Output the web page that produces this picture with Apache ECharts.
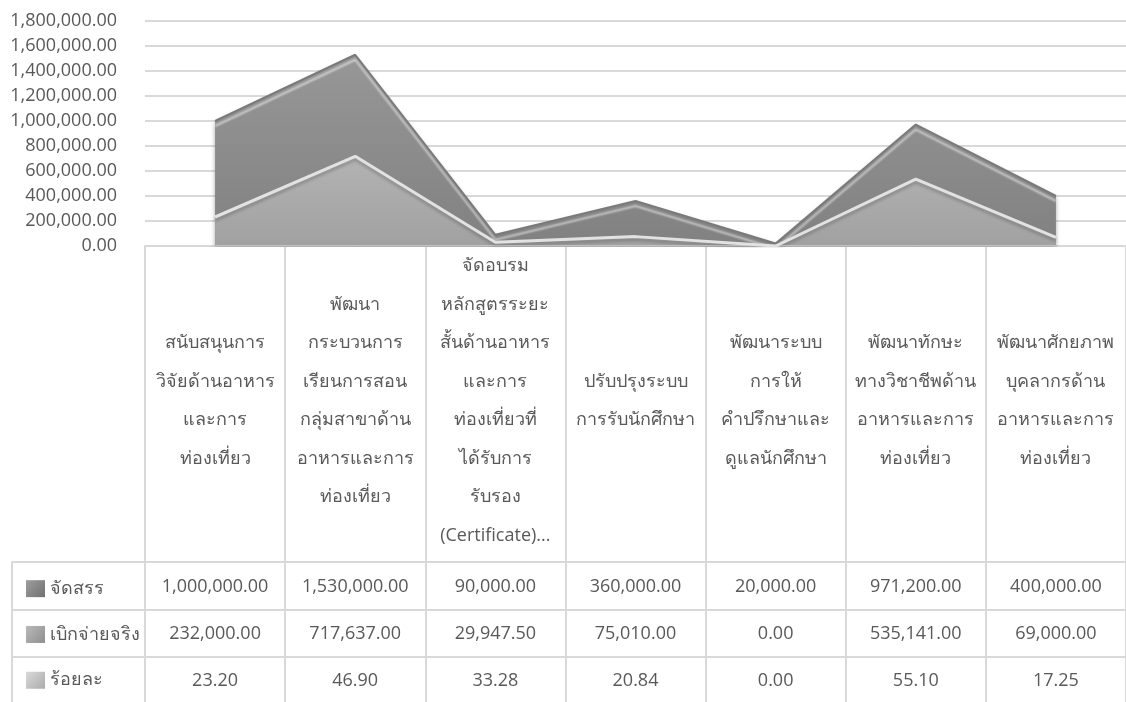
<!DOCTYPE html>
<html>
<head>
<meta charset="utf-8">
<script src="https://cdn.jsdelivr.net/npm/echarts@6/dist/echarts.min.js"></script>
<style>
  html, body { margin: 0; padding: 0; background: #fff; }
  #main { width: 1126px; height: 702px; }
</style>
</head>
<body>
<div id="main"></div>
<script>
// หมวดหมู่ (ตัดบรรทัดตามภาพต้นฉบับ)
var categories = [
  'สนับสนุนการ\nวิจัยด้านอาหาร\nและการ\nท่องเที่ยว',
  'พัฒนา\nกระบวนการ\nเรียนการสอน\nกลุ่มสาขาด้าน\nอาหารและการ\nท่องเที่ยว',
  'จัดอบรม\nหลักสูตรระยะ\nสั้นด้านอาหาร\nและการ\nท่องเที่ยวที่\nได้รับการ\nรับรอง\n(Certificate)...',
  'ปรับปรุงระบบ\nการรับนักศึกษา',
  'พัฒนาระบบ\nการให้\nคำปรึกษาและ\nดูแลนักศึกษา',
  'พัฒนาทักษะ\nทางวิชาชีพด้าน\nอาหารและการ\nท่องเที่ยว',
  'พัฒนาศักยภาพ\nบุคลากรด้าน\nอาหารและการ\nท่องเที่ยว'
];
var seriesNames = ['จัดสรร', 'เบิกจ่ายจริง', 'ร้อยละ'];
var allocated = [1000000, 1530000, 90000, 360000, 20000, 971200, 400000];
var spent = [232000, 717637, 29947.5, 75010, 0, 535141, 69000];
var percent = [23.20, 46.90, 33.28, 20.84, 0.00, 55.10, 17.25];
var yTicks = [0, 200000, 400000, 600000, 800000, 1000000, 1200000, 1400000, 1600000, 1800000];

var chart = echarts.init(document.getElementById('main'));

var FONT = '"Open Sans", "Noto Sans", sans-serif';
var TXT = '#595959';
var LINE = '#d9d9d9';

function fmt(v) {
  return v.toLocaleString('en-US', { minimumFractionDigits: 2, maximumFractionDigits: 2 });
}

function grad(c1, c2) {
  return new echarts.graphic.LinearGradient(0, 0, 0, 1, [
    { offset: 0, color: c1 }, { offset: 1, color: c2 }
  ]);
}
function keyGrad(c1, c2) {
  return new echarts.graphic.LinearGradient(0, 0, 1, 1, [
    { offset: 0, color: c1 }, { offset: 1, color: c2 }
  ]);
}

var tableRows = [allocated, spent, percent];
var rowTop = 562, rowH = 47.3;
var plotLeft = 145, plotW = 989;

var grids = [{ left: plotLeft, top: 21, width: plotW, height: 225 }];
var xAxes = [{
  type: 'category',
  gridIndex: 0,
  data: categories,
  boundaryGap: true,
  axisLine: { lineStyle: { color: LINE, width: 2 } },
  axisTick: { show: true, length: 316, interval: 0, lineStyle: { color: LINE, width: 2 } },
  axisLabel: {
    interval: 0, margin: 155, verticalAlign: 'middle', align: 'center',
    lineHeight: 38.5, fontSize: 18, color: TXT, fontFamily: FONT
  }
}];
var yAxes = [{
  type: 'value',
  gridIndex: 0,
  min: yTicks[0],
  max: yTicks[yTicks.length - 1],
  interval: yTicks[1] - yTicks[0],
  axisLine: { show: false },
  axisTick: { show: false },
  splitLine: { lineStyle: { color: LINE, width: 2 } },
  axisLabel: { margin: 28, fontSize: 18, color: TXT, fontFamily: FONT, formatter: fmt }
}];

// ตารางข้อมูล: แต่ละแถวใช้กริดสองช่อง (ชื่อแถว + ค่า)
tableRows.forEach(function (vals, i) {
  var top = rowTop + rowH * i;
  // ช่องชื่อแถว
  grids.push({ left: 12, top: top, width: plotLeft - 12, height: rowH });
  xAxes.push({
    type: 'category', gridIndex: grids.length - 1, position: 'top',
    data: [seriesNames[i]], boundaryGap: true,
    axisLine: { onZero: false, lineStyle: { color: LINE, width: 2 } },
    axisTick: { show: true, inside: true, length: rowH, interval: 0, lineStyle: { color: LINE, width: 2 } },
    axisLabel: { show: false }
  });
  yAxes.push({ type: 'value', gridIndex: grids.length - 1, show: false });
  // ช่องค่า
  grids.push({ left: plotLeft, top: top, width: plotW, height: rowH });
  xAxes.push({
    type: 'category', gridIndex: grids.length - 1, position: 'top',
    data: vals.map(fmt), boundaryGap: true,
    axisLine: { onZero: false, lineStyle: { color: LINE, width: 2 } },
    axisTick: { show: true, inside: true, length: rowH, interval: 0, lineStyle: { color: LINE, width: 2 } },
    axisLabel: {
      interval: 0, margin: -rowH / 2 - 1, verticalAlign: 'middle',
      fontSize: 18, color: TXT, fontFamily: FONT
    }
  });
  yAxes.push({ type: 'value', gridIndex: grids.length - 1, show: false });
});

var keyColors = [
  keyGrad('#9e9e9e', '#707070'),
  keyGrad('#bababa', '#8e8e8e'),
  keyGrad('#dadada', '#ababab')
];

var option = {
  animation: false,
  backgroundColor: '#fff',
  grid: grids,
  xAxis: xAxes,
  yAxis: yAxes,
  legend: {
    orient: 'vertical',
    left: 21,
    top: rowTop + rowH / 2 - 11,
    icon: 'rect',
    itemWidth: 19,
    itemHeight: 17,
    itemGap: rowH - 19.5,
    selectedMode: false,
    textStyle: { fontSize: 18, color: TXT, fontFamily: FONT, lineHeight: 18 },
    data: seriesNames.map(function (n, i) {
      return { name: n, itemStyle: { color: keyColors[i], borderWidth: 0 } };
    })
  },
  series: [
    {
      name: seriesNames[0], type: 'line', data: allocated,
      symbol: 'none', z: 2,
      itemStyle: { color: '#858585' },
      lineStyle: { color: '#7a7a7a', width: 2, shadowColor: 'rgba(255,255,255,0.55)', shadowBlur: 2, shadowOffsetY: 5 },
      areaStyle: { color: grad('#979797', '#818181'), opacity: 1, shadowColor: 'rgba(0,0,0,0.35)', shadowBlur: 4, shadowOffsetY: 2 }
    },
    {
      name: seriesNames[1], type: 'line', data: spent,
      symbol: 'none', z: 3,
      itemStyle: { color: '#a6a6a6' },
      lineStyle: { color: '#e2e2e2', width: 3, shadowColor: 'rgba(0,0,0,0.2)', shadowBlur: 3, shadowOffsetY: 3 },
      areaStyle: { color: grad('#b3b3b3', '#a1a1a1'), opacity: 1 }
    },
    {
      name: seriesNames[2], type: 'line', data: percent,
      symbol: 'none', z: 4,
      itemStyle: { color: '#c8c8c8' },
      lineStyle: { color: '#e0e0e0', width: 1 },
      areaStyle: { color: '#c8c8c8', opacity: 1 }
    }
  ]
};

chart.setOption(option);
</script>
</body>
</html>
